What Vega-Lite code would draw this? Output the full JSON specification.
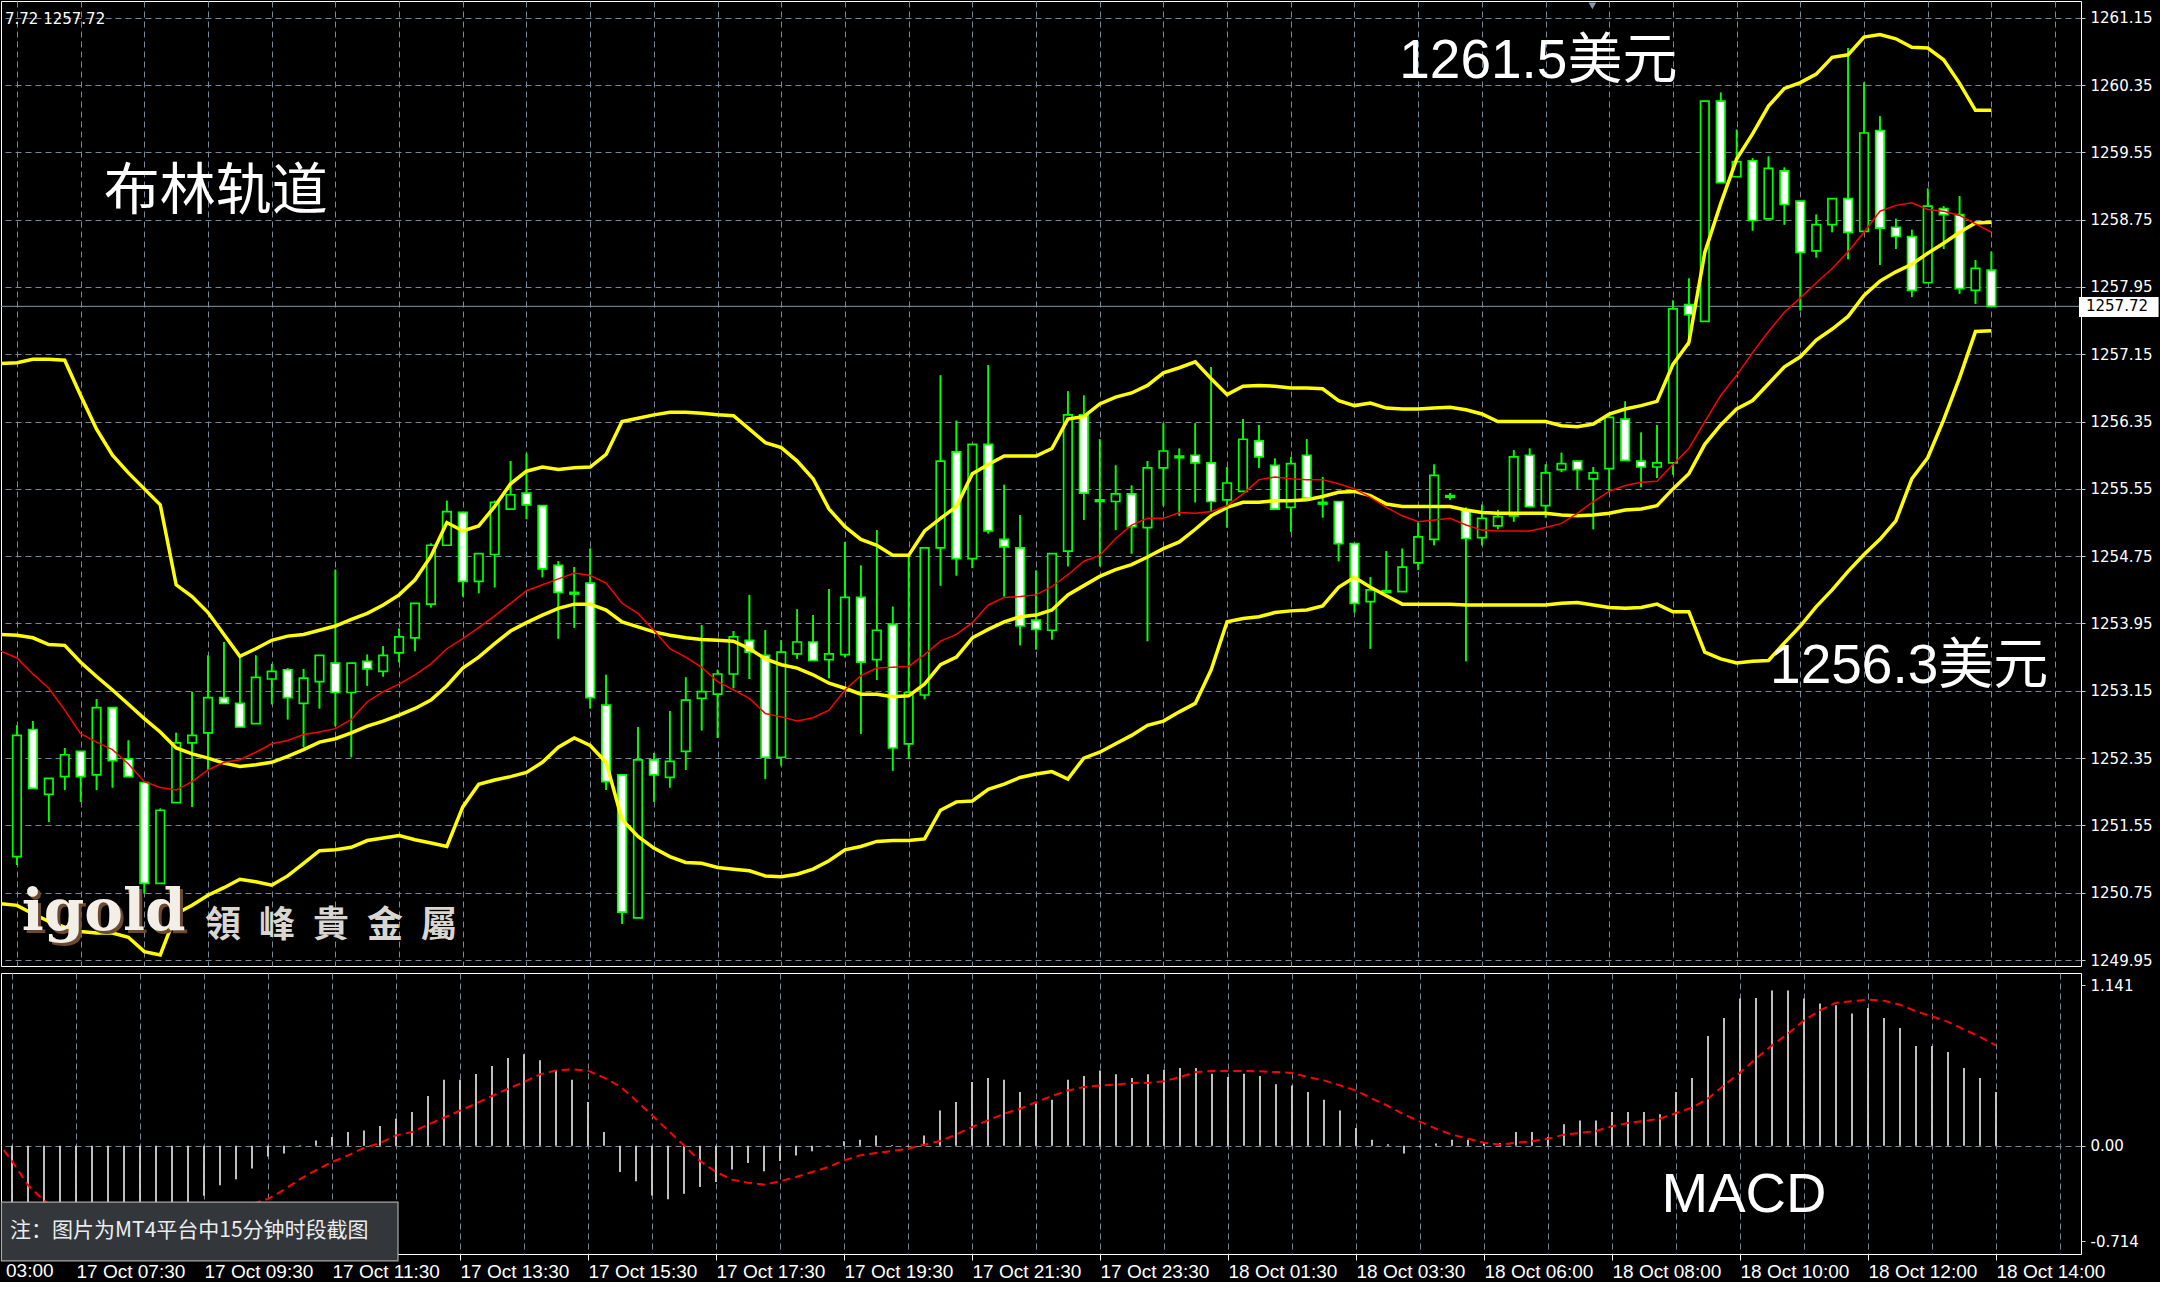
{
"$schema": "https://vega.github.io/schema/vega-lite/v6.json",
"background": "#000000",
"padding": 0,
"spacing": 3,
"config": {"view": {"stroke": "#ffffff", "strokeWidth": 1}},
"datasets": {
"bars": [
{"i":-1,"up":1257.04,"mid":1253.82,"lo":1250.62,"ma":1253.62,"sig":0.04},
{"i":0,"o":1251.18,"h":1252.74,"l":1251.08,"c":1252.62,"up":1257.05,"mid":1253.81,"lo":1250.60,"ma":1253.54,"macd":-0.62,"sig":-0.10},
{"i":1,"o":1252.69,"h":1252.79,"l":1251.99,"c":1251.99,"up":1257.09,"mid":1253.78,"lo":1250.50,"ma":1253.35,"macd":-0.68,"sig":-0.26},
{"i":2,"o":1251.92,"h":1252.11,"l":1251.59,"c":1252.11,"up":1257.09,"mid":1253.70,"lo":1250.41,"ma":1253.18,"macd":-0.71,"sig":-0.36},
{"i":3,"o":1252.13,"h":1252.47,"l":1251.97,"c":1252.39,"up":1257.08,"mid":1253.69,"lo":1250.34,"ma":1252.92,"macd":-0.70,"sig":-0.43},
{"i":4,"o":1252.43,"h":1252.43,"l":1251.83,"c":1252.13,"up":1256.66,"mid":1253.49,"lo":1250.29,"ma":1252.64,"macd":-0.66,"sig":-0.49},
{"i":5,"o":1252.15,"h":1253.05,"l":1251.97,"c":1252.95,"up":1256.26,"mid":1253.32,"lo":1250.27,"ma":1252.54,"macd":-0.63,"sig":-0.53},
{"i":6,"o":1252.95,"h":1252.95,"l":1252.00,"c":1252.32,"up":1255.95,"mid":1253.16,"lo":1250.27,"ma":1252.45,"macd":-0.60,"sig":-0.56},
{"i":7,"o":1252.34,"h":1252.56,"l":1252.13,"c":1252.13,"up":1255.74,"mid":1252.99,"lo":1250.22,"ma":1252.28,"macd":-0.57,"sig":-0.58},
{"i":8,"o":1252.06,"h":1252.06,"l":1250.74,"c":1250.86,"up":1255.55,"mid":1252.82,"lo":1250.05,"ma":1252.07,"macd":-0.55,"sig":-0.585},
{"i":9,"o":1250.86,"h":1251.75,"l":1250.86,"c":1251.73,"up":1255.36,"mid":1252.66,"lo":1250.01,"ma":1252.00,"macd":-0.52,"sig":-0.58},
{"i":10,"o":1251.82,"h":1252.65,"l":1251.82,"c":1252.53,"up":1254.41,"mid":1252.47,"lo":1250.50,"ma":1251.97,"macd":-0.47,"sig":-0.56},
{"i":11,"o":1252.53,"h":1253.14,"l":1251.77,"c":1252.62,"up":1254.27,"mid":1252.40,"lo":1250.60,"ma":1252.07,"macd":-0.42,"sig":-0.53},
{"i":12,"o":1252.65,"h":1253.57,"l":1252.21,"c":1253.07,"up":1254.08,"mid":1252.35,"lo":1250.72,"ma":1252.21,"macd":-0.33,"sig":-0.50},
{"i":13,"o":1253.07,"h":1253.73,"l":1253.00,"c":1253.00,"up":1253.82,"mid":1252.29,"lo":1250.81,"ma":1252.30,"macd":-0.26,"sig":-0.46},
{"i":14,"o":1253.00,"h":1253.54,"l":1252.72,"c":1252.72,"up":1253.56,"mid":1252.25,"lo":1250.91,"ma":1252.33,"macd":-0.22,"sig":-0.42},
{"i":15,"o":1252.76,"h":1253.57,"l":1252.76,"c":1253.31,"up":1253.65,"mid":1252.27,"lo":1250.88,"ma":1252.42,"macd":-0.15,"sig":-0.385},
{"i":16,"o":1253.29,"h":1253.47,"l":1252.99,"c":1253.38,"up":1253.75,"mid":1252.30,"lo":1250.84,"ma":1252.52,"macd":-0.07,"sig":-0.35},
{"i":17,"o":1253.40,"h":1253.42,"l":1252.81,"c":1253.07,"up":1253.80,"mid":1252.37,"lo":1250.95,"ma":1252.56,"macd":-0.05,"sig":-0.29},
{"i":18,"o":1253.00,"h":1253.41,"l":1252.48,"c":1253.30,"up":1253.82,"mid":1252.45,"lo":1251.10,"ma":1252.63,"macd":0.004,"sig":-0.22},
{"i":19,"o":1253.26,"h":1253.57,"l":1252.94,"c":1253.57,"up":1253.87,"mid":1252.54,"lo":1251.25,"ma":1252.66,"macd":0.036,"sig":-0.16},
{"i":20,"o":1253.48,"h":1254.59,"l":1252.73,"c":1253.13,"up":1253.92,"mid":1252.58,"lo":1251.26,"ma":1252.70,"macd":0.058,"sig":-0.107},
{"i":21,"o":1253.13,"h":1253.48,"l":1252.36,"c":1253.48,"up":1254.00,"mid":1252.65,"lo":1251.29,"ma":1252.81,"macd":0.091,"sig":-0.063},
{"i":22,"o":1253.50,"h":1253.58,"l":1253.21,"c":1253.41,"up":1254.07,"mid":1252.73,"lo":1251.37,"ma":1253.02,"macd":0.102,"sig":-0.014},
{"i":23,"o":1253.38,"h":1253.68,"l":1253.32,"c":1253.57,"up":1254.17,"mid":1252.79,"lo":1251.40,"ma":1253.14,"macd":0.131,"sig":0.019},
{"i":24,"o":1253.60,"h":1253.89,"l":1253.49,"c":1253.79,"up":1254.29,"mid":1252.86,"lo":1251.43,"ma":1253.23,"macd":0.179,"sig":0.069},
{"i":25,"o":1253.78,"h":1254.19,"l":1253.62,"c":1254.19,"up":1254.47,"mid":1252.94,"lo":1251.38,"ma":1253.34,"macd":0.223,"sig":0.091},
{"i":26,"o":1254.18,"h":1254.90,"l":1254.14,"c":1254.88,"up":1254.75,"mid":1253.04,"lo":1251.34,"ma":1253.47,"macd":0.329,"sig":0.140},
{"i":27,"o":1254.88,"h":1255.41,"l":1254.88,"c":1255.28,"up":1255.15,"mid":1253.21,"lo":1251.30,"ma":1253.65,"macd":0.437,"sig":0.186},
{"i":28,"o":1255.27,"h":1255.27,"l":1254.27,"c":1254.45,"up":1255.05,"mid":1253.42,"lo":1251.77,"ma":1253.77,"macd":0.437,"sig":0.232},
{"i":29,"o":1254.45,"h":1254.78,"l":1254.31,"c":1254.78,"up":1255.11,"mid":1253.55,"lo":1252.04,"ma":1253.90,"macd":0.474,"sig":0.279},
{"i":30,"o":1254.77,"h":1255.41,"l":1254.38,"c":1255.39,"up":1255.34,"mid":1253.71,"lo":1252.09,"ma":1254.04,"macd":0.527,"sig":0.329},
{"i":31,"o":1255.31,"h":1255.88,"l":1255.31,"c":1255.48,"up":1255.61,"mid":1253.86,"lo":1252.13,"ma":1254.19,"macd":0.580,"sig":0.377},
{"i":32,"o":1255.50,"h":1255.97,"l":1255.19,"c":1255.36,"up":1255.76,"mid":1253.96,"lo":1252.18,"ma":1254.34,"macd":0.604,"sig":0.421},
{"i":33,"o":1255.35,"h":1255.35,"l":1254.50,"c":1254.60,"up":1255.81,"mid":1254.05,"lo":1252.30,"ma":1254.41,"macd":0.565,"sig":0.472},
{"i":34,"o":1254.64,"h":1254.69,"l":1253.77,"c":1254.32,"up":1255.78,"mid":1254.13,"lo":1252.48,"ma":1254.48,"macd":0.498,"sig":0.498},
{"i":35,"o":1254.30,"h":1254.62,"l":1253.90,"c":1254.32,"up":1255.80,"mid":1254.18,"lo":1252.59,"ma":1254.55,"macd":0.437,"sig":0.505},
{"i":36,"o":1254.43,"h":1254.84,"l":1252.94,"c":1253.07,"up":1255.81,"mid":1254.18,"lo":1252.50,"ma":1254.52,"macd":0.289,"sig":0.496},
{"i":37,"o":1252.98,"h":1253.34,"l":1251.97,"c":1252.07,"up":1255.96,"mid":1254.11,"lo":1252.30,"ma":1254.43,"macd":0.091,"sig":0.450},
{"i":38,"o":1252.15,"h":1252.15,"l":1250.38,"c":1250.52,"up":1256.35,"mid":1253.97,"lo":1251.62,"ma":1254.19,"macd":-0.173,"sig":0.393},
{"i":39,"o":1250.45,"h":1252.72,"l":1250.45,"c":1252.33,"up":1256.39,"mid":1253.91,"lo":1251.42,"ma":1254.07,"macd":-0.234,"sig":0.300},
{"i":40,"o":1252.33,"h":1252.41,"l":1251.83,"c":1252.15,"up":1256.43,"mid":1253.85,"lo":1251.28,"ma":1253.87,"macd":-0.327,"sig":0.201},
{"i":41,"o":1252.12,"h":1252.91,"l":1252.00,"c":1252.31,"up":1256.46,"mid":1253.81,"lo":1251.18,"ma":1253.65,"macd":-0.353,"sig":0.102},
{"i":42,"o":1252.43,"h":1253.31,"l":1252.21,"c":1253.04,"up":1256.46,"mid":1253.78,"lo":1251.11,"ma":1253.55,"macd":-0.316,"sig":0.003},
{"i":43,"o":1253.06,"h":1253.93,"l":1252.68,"c":1253.14,"up":1256.45,"mid":1253.76,"lo":1251.10,"ma":1253.43,"macd":-0.272,"sig":-0.10},
{"i":44,"o":1253.11,"h":1253.40,"l":1252.59,"c":1253.35,"up":1256.43,"mid":1253.75,"lo":1251.05,"ma":1253.26,"macd":-0.239,"sig":-0.173},
{"i":45,"o":1253.35,"h":1253.86,"l":1253.18,"c":1253.79,"up":1256.42,"mid":1253.74,"lo":1251.03,"ma":1253.16,"macd":-0.157,"sig":-0.223},
{"i":46,"o":1253.75,"h":1254.29,"l":1253.29,"c":1253.61,"up":1256.26,"mid":1253.65,"lo":1251.01,"ma":1253.06,"macd":-0.113,"sig":-0.243},
{"i":47,"o":1253.57,"h":1253.87,"l":1252.10,"c":1252.36,"up":1256.10,"mid":1253.53,"lo":1250.95,"ma":1252.88,"macd":-0.168,"sig":-0.256},
{"i":48,"o":1252.36,"h":1253.75,"l":1252.26,"c":1253.61,"up":1256.04,"mid":1253.46,"lo":1250.94,"ma":1252.84,"macd":-0.10,"sig":-0.234},
{"i":49,"o":1253.59,"h":1254.12,"l":1253.53,"c":1253.73,"up":1255.88,"mid":1253.42,"lo":1250.97,"ma":1252.79,"macd":-0.063,"sig":-0.206},
{"i":50,"o":1253.73,"h":1254.05,"l":1253.51,"c":1253.51,"up":1255.67,"mid":1253.34,"lo":1251.03,"ma":1252.83,"macd":-0.036,"sig":-0.173},
{"i":51,"o":1253.52,"h":1254.36,"l":1253.30,"c":1253.59,"up":1255.31,"mid":1253.24,"lo":1251.13,"ma":1252.92,"macd":0.003,"sig":-0.140},
{"i":52,"o":1253.58,"h":1254.92,"l":1253.55,"c":1254.26,"up":1255.10,"mid":1253.18,"lo":1251.26,"ma":1253.16,"macd":0.030,"sig":-0.096},
{"i":53,"o":1254.26,"h":1254.64,"l":1252.64,"c":1253.49,"up":1254.95,"mid":1253.11,"lo":1251.30,"ma":1253.33,"macd":0.041,"sig":-0.063},
{"i":54,"o":1253.52,"h":1255.06,"l":1253.28,"c":1253.87,"up":1254.88,"mid":1253.11,"lo":1251.36,"ma":1253.42,"macd":0.069,"sig":-0.047},
{"i":55,"o":1253.94,"h":1254.15,"l":1252.20,"c":1252.47,"up":1254.76,"mid":1253.08,"lo":1251.37,"ma":1253.43,"macd":0.005,"sig":-0.034},
{"i":56,"o":1252.52,"h":1254.74,"l":1252.34,"c":1253.13,"up":1254.76,"mid":1253.09,"lo":1251.37,"ma":1253.44,"macd":-0.004,"sig":-0.019},
{"i":57,"o":1253.10,"h":1254.85,"l":1253.05,"c":1254.85,"up":1255.05,"mid":1253.23,"lo":1251.39,"ma":1253.58,"macd":0.069,"sig":0.008},
{"i":58,"o":1254.85,"h":1256.90,"l":1254.40,"c":1255.88,"up":1255.20,"mid":1253.46,"lo":1251.73,"ma":1253.74,"macd":0.234,"sig":0.032},
{"i":59,"o":1255.99,"h":1256.36,"l":1254.52,"c":1254.72,"up":1255.34,"mid":1253.55,"lo":1251.83,"ma":1253.82,"macd":0.289,"sig":0.074},
{"i":60,"o":1254.72,"h":1256.08,"l":1254.61,"c":1256.08,"up":1255.73,"mid":1253.78,"lo":1251.84,"ma":1253.96,"macd":0.421,"sig":0.124},
{"i":61,"o":1256.08,"h":1257.02,"l":1255.02,"c":1255.05,"up":1255.84,"mid":1253.88,"lo":1251.98,"ma":1254.17,"macd":0.448,"sig":0.168},
{"i":62,"o":1254.95,"h":1255.60,"l":1254.27,"c":1254.86,"up":1255.94,"mid":1253.97,"lo":1252.04,"ma":1254.26,"macd":0.437,"sig":0.212},
{"i":63,"o":1254.85,"h":1255.24,"l":1253.69,"c":1253.92,"up":1255.94,"mid":1254.03,"lo":1252.12,"ma":1254.27,"macd":0.355,"sig":0.245},
{"i":64,"o":1253.99,"h":1254.58,"l":1253.64,"c":1253.88,"up":1255.94,"mid":1254.05,"lo":1252.16,"ma":1254.29,"macd":0.279,"sig":0.289},
{"i":65,"o":1253.87,"h":1254.78,"l":1253.76,"c":1254.78,"up":1256.03,"mid":1254.11,"lo":1252.19,"ma":1254.39,"macd":0.305,"sig":0.329},
{"i":66,"o":1254.81,"h":1256.71,"l":1254.63,"c":1256.43,"up":1256.38,"mid":1254.29,"lo":1252.10,"ma":1254.53,"macd":0.437,"sig":0.366},
{"i":67,"o":1256.43,"h":1256.66,"l":1255.18,"c":1255.50,"up":1256.41,"mid":1254.40,"lo":1252.35,"ma":1254.69,"macd":0.461,"sig":0.388},
{"i":68,"o":1255.40,"h":1256.14,"l":1254.63,"c":1255.42,"up":1256.56,"mid":1254.51,"lo":1252.42,"ma":1254.76,"macd":0.498,"sig":0.399},
{"i":69,"o":1255.40,"h":1255.83,"l":1255.06,"c":1255.49,"up":1256.64,"mid":1254.59,"lo":1252.52,"ma":1254.96,"macd":0.472,"sig":0.404},
{"i":70,"o":1255.49,"h":1255.59,"l":1254.78,"c":1255.10,"up":1256.69,"mid":1254.65,"lo":1252.62,"ma":1255.12,"macd":0.448,"sig":0.415},
{"i":71,"o":1255.09,"h":1255.88,"l":1253.74,"c":1255.80,"up":1256.78,"mid":1254.74,"lo":1252.74,"ma":1255.20,"macd":0.472,"sig":0.415},
{"i":72,"o":1255.80,"h":1256.33,"l":1255.35,"c":1256.00,"up":1256.93,"mid":1254.84,"lo":1252.79,"ma":1255.20,"macd":0.503,"sig":0.426},
{"i":73,"o":1255.92,"h":1256.03,"l":1255.23,"c":1255.94,"up":1256.99,"mid":1254.92,"lo":1252.90,"ma":1255.27,"macd":0.514,"sig":0.454},
{"i":74,"o":1255.95,"h":1256.33,"l":1255.39,"c":1255.86,"up":1257.06,"mid":1255.07,"lo":1253.00,"ma":1255.26,"macd":0.514,"sig":0.487},
{"i":75,"o":1255.86,"h":1257.00,"l":1255.29,"c":1255.40,"up":1256.86,"mid":1255.23,"lo":1253.40,"ma":1255.28,"macd":0.476,"sig":0.494},
{"i":76,"o":1255.42,"h":1255.81,"l":1255.09,"c":1255.62,"up":1256.67,"mid":1255.33,"lo":1253.97,"ma":1255.35,"macd":0.454,"sig":0.494},
{"i":77,"o":1255.52,"h":1256.38,"l":1255.52,"c":1256.14,"up":1256.77,"mid":1255.39,"lo":1254.01,"ma":1255.49,"macd":0.476,"sig":0.494},
{"i":78,"o":1256.12,"h":1256.31,"l":1255.80,"c":1255.93,"up":1256.78,"mid":1255.39,"lo":1254.03,"ma":1255.66,"macd":0.461,"sig":0.492},
{"i":79,"o":1255.83,"h":1255.91,"l":1255.31,"c":1255.31,"up":1256.77,"mid":1255.41,"lo":1254.08,"ma":1255.69,"macd":0.406,"sig":0.487},
{"i":80,"o":1255.33,"h":1255.93,"l":1255.04,"c":1255.85,"up":1256.75,"mid":1255.41,"lo":1254.10,"ma":1255.67,"macd":0.399,"sig":0.481},
{"i":81,"o":1255.95,"h":1256.14,"l":1255.44,"c":1255.44,"up":1256.75,"mid":1255.42,"lo":1254.11,"ma":1255.66,"macd":0.355,"sig":0.454},
{"i":82,"o":1255.37,"h":1255.69,"l":1255.21,"c":1255.39,"up":1256.74,"mid":1255.46,"lo":1254.16,"ma":1255.66,"macd":0.305,"sig":0.432},
{"i":83,"o":1255.40,"h":1255.40,"l":1254.69,"c":1254.90,"up":1256.60,"mid":1255.51,"lo":1254.38,"ma":1255.61,"macd":0.234,"sig":0.399},
{"i":84,"o":1254.90,"h":1254.90,"l":1254.08,"c":1254.19,"up":1256.54,"mid":1255.52,"lo":1254.50,"ma":1255.55,"macd":0.118,"sig":0.366},
{"i":85,"o":1254.21,"h":1254.50,"l":1253.65,"c":1254.35,"up":1256.57,"mid":1255.47,"lo":1254.38,"ma":1255.45,"macd":0.041,"sig":0.312},
{"i":86,"o":1254.32,"h":1254.81,"l":1254.32,"c":1254.34,"up":1256.51,"mid":1255.37,"lo":1254.28,"ma":1255.33,"macd":0.010,"sig":0.263},
{"i":87,"o":1254.33,"h":1254.84,"l":1254.33,"c":1254.62,"up":1256.50,"mid":1255.34,"lo":1254.18,"ma":1255.23,"macd":-0.050,"sig":0.207},
{"i":88,"o":1254.67,"h":1255.15,"l":1254.59,"c":1254.98,"up":1256.50,"mid":1255.34,"lo":1254.18,"ma":1255.16,"macd":-0.010,"sig":0.160},
{"i":89,"o":1254.95,"h":1255.84,"l":1254.88,"c":1255.71,"up":1256.51,"mid":1255.34,"lo":1254.18,"ma":1255.18,"macd":0.016,"sig":0.113},
{"i":90,"o":1255.45,"h":1255.50,"l":1255.42,"c":1255.47,"up":1256.52,"mid":1255.34,"lo":1254.18,"ma":1255.20,"macd":0.041,"sig":0.074},
{"i":91,"o":1255.30,"h":1255.33,"l":1253.50,"c":1254.96,"up":1256.49,"mid":1255.30,"lo":1254.17,"ma":1255.12,"macd":0.041,"sig":0.047},
{"i":92,"o":1254.97,"h":1255.36,"l":1254.88,"c":1255.20,"up":1256.44,"mid":1255.27,"lo":1254.17,"ma":1255.06,"macd":0.018,"sig":0.021},
{"i":93,"o":1255.11,"h":1255.30,"l":1255.07,"c":1255.22,"up":1256.35,"mid":1255.26,"lo":1254.17,"ma":1255.05,"macd":0.018,"sig":0.008},
{"i":94,"o":1255.23,"h":1256.01,"l":1255.16,"c":1255.93,"up":1256.35,"mid":1255.26,"lo":1254.17,"ma":1255.05,"macd":0.091,"sig":0.021},
{"i":95,"o":1255.95,"h":1256.03,"l":1255.34,"c":1255.34,"up":1256.35,"mid":1255.26,"lo":1254.17,"ma":1255.05,"macd":0.091,"sig":0.030},
{"i":96,"o":1255.35,"h":1255.84,"l":1255.21,"c":1255.74,"up":1256.35,"mid":1255.26,"lo":1254.17,"ma":1255.09,"macd":0.058,"sig":0.047},
{"i":97,"o":1255.78,"h":1255.98,"l":1255.75,"c":1255.85,"up":1256.30,"mid":1255.24,"lo":1254.19,"ma":1255.14,"macd":0.142,"sig":0.074},
{"i":98,"o":1255.88,"h":1255.88,"l":1255.55,"c":1255.78,"up":1256.29,"mid":1255.23,"lo":1254.20,"ma":1255.26,"macd":0.168,"sig":0.085},
{"i":99,"o":1255.67,"h":1255.81,"l":1255.07,"c":1255.74,"up":1256.32,"mid":1255.24,"lo":1254.17,"ma":1255.40,"macd":0.168,"sig":0.098},
{"i":100,"o":1255.79,"h":1256.42,"l":1255.52,"c":1256.40,"up":1256.44,"mid":1255.26,"lo":1254.14,"ma":1255.52,"macd":0.223,"sig":0.129},
{"i":101,"o":1256.38,"h":1256.59,"l":1255.89,"c":1255.89,"up":1256.50,"mid":1255.30,"lo":1254.13,"ma":1255.59,"macd":0.223,"sig":0.151},
{"i":102,"o":1255.88,"h":1256.22,"l":1255.57,"c":1255.81,"up":1256.54,"mid":1255.31,"lo":1254.14,"ma":1255.63,"macd":0.223,"sig":0.164},
{"i":103,"o":1255.81,"h":1256.31,"l":1255.68,"c":1255.86,"up":1256.59,"mid":1255.35,"lo":1254.18,"ma":1255.64,"macd":0.208,"sig":0.179},
{"i":104,"o":1255.86,"h":1257.79,"l":1255.72,"c":1257.69,"up":1257.03,"mid":1255.55,"lo":1254.09,"ma":1255.84,"macd":0.355,"sig":0.217},
{"i":105,"o":1257.74,"h":1258.05,"l":1257.25,"c":1257.62,"up":1257.29,"mid":1255.73,"lo":1254.09,"ma":1256.03,"macd":0.448,"sig":0.252},
{"i":106,"o":1257.54,"h":1260.16,"l":1257.54,"c":1260.16,"up":1258.36,"mid":1256.08,"lo":1253.61,"ma":1256.35,"macd":0.725,"sig":0.312},
{"i":107,"o":1260.16,"h":1260.26,"l":1259.19,"c":1259.19,"up":1258.94,"mid":1256.31,"lo":1253.53,"ma":1256.66,"macd":0.844,"sig":0.399},
{"i":108,"o":1259.26,"h":1259.82,"l":1259.26,"c":1259.44,"up":1259.47,"mid":1256.50,"lo":1253.48,"ma":1256.90,"macd":0.972,"sig":0.483},
{"i":109,"o":1259.45,"h":1259.48,"l":1258.62,"c":1258.74,"up":1259.77,"mid":1256.60,"lo":1253.50,"ma":1257.17,"macd":0.976,"sig":0.576},
{"i":110,"o":1258.76,"h":1259.50,"l":1258.76,"c":1259.36,"up":1260.10,"mid":1256.80,"lo":1253.51,"ma":1257.42,"macd":1.026,"sig":0.663},
{"i":111,"o":1259.33,"h":1259.37,"l":1258.69,"c":1258.93,"up":1260.31,"mid":1257.00,"lo":1253.72,"ma":1257.65,"macd":1.026,"sig":0.741},
{"i":112,"o":1258.97,"h":1258.97,"l":1257.67,"c":1258.36,"up":1260.38,"mid":1257.12,"lo":1253.92,"ma":1257.82,"macd":0.972,"sig":0.828},
{"i":113,"o":1258.38,"h":1258.81,"l":1258.30,"c":1258.69,"up":1260.48,"mid":1257.32,"lo":1254.15,"ma":1258.00,"macd":0.939,"sig":0.894},
{"i":114,"o":1258.69,"h":1259.00,"l":1258.60,"c":1259.00,"up":1260.68,"mid":1257.45,"lo":1254.35,"ma":1258.17,"macd":0.928,"sig":0.945},
{"i":115,"o":1259.00,"h":1260.79,"l":1258.28,"c":1258.60,"up":1260.71,"mid":1257.60,"lo":1254.57,"ma":1258.37,"macd":0.873,"sig":0.954},
{"i":116,"o":1258.61,"h":1260.38,"l":1258.61,"c":1259.78,"up":1260.92,"mid":1257.85,"lo":1254.77,"ma":1258.60,"macd":0.910,"sig":0.965},
{"i":117,"o":1259.81,"h":1259.98,"l":1258.21,"c":1258.65,"up":1260.95,"mid":1258.02,"lo":1254.95,"ma":1258.85,"macd":0.844,"sig":0.958},
{"i":118,"o":1258.66,"h":1258.76,"l":1258.40,"c":1258.55,"up":1260.90,"mid":1258.13,"lo":1255.17,"ma":1258.92,"macd":0.778,"sig":0.932},
{"i":119,"o":1258.55,"h":1258.63,"l":1257.83,"c":1257.91,"up":1260.80,"mid":1258.22,"lo":1255.67,"ma":1258.95,"macd":0.659,"sig":0.888},
{"i":120,"o":1258.00,"h":1259.12,"l":1258.00,"c":1258.91,"up":1260.79,"mid":1258.35,"lo":1255.92,"ma":1258.87,"macd":0.659,"sig":0.855},
{"i":121,"o":1258.88,"h":1258.91,"l":1258.40,"c":1258.81,"up":1260.65,"mid":1258.47,"lo":1256.37,"ma":1258.85,"macd":0.620,"sig":0.818},
{"i":122,"o":1258.81,"h":1259.03,"l":1257.87,"c":1257.93,"up":1260.37,"mid":1258.60,"lo":1256.87,"ma":1258.80,"macd":0.514,"sig":0.769},
{"i":123,"o":1257.91,"h":1258.27,"l":1257.75,"c":1258.17,"up":1260.05,"mid":1258.71,"lo":1257.42,"ma":1258.70,"macd":0.448,"sig":0.719},
{"i":124,"o":1258.15,"h":1258.37,"l":1257.71,"c":1257.72,"up":1260.05,"mid":1258.72,"lo":1257.43,"ma":1258.60,"macd":0.355,"sig":0.663}
],
"cur": [{"price": 1257.72}]
},
"vconcat": [
{
"width": 2080,
"height": 965,
"data": {"name": "bars"},
"layer": [
{
"transform": [{"filter": "isValid(datum.o)"}],
"mark": {"type": "rule", "color": "#00ff00", "strokeWidth": 1.6},
"encoding": {
"x": {"field": "i", "type": "quantitative", "scale": {"domain": [-0.6875, 129.3125], "nice": false, "zero": false},
"axis": {"values": [0,4,8,12,16,20,24,28,32,36,40,44,48,52,56,60,64,68,72,76,80,84,88,92,96,100,104,108,112,116,120,124,128], "labels": false, "ticks": false, "domain": false, "title": null, "grid": true, "gridColor": "#778899", "gridDash": [6, 4], "gridWidth": 1}},
"y": {"field": "l", "type": "quantitative", "scale": {"domain": [1249.879, 1261.349], "nice": false, "zero": false},
"axis": {"orient": "right", "values": [1249.95,1250.75,1251.55,1252.35,1253.15,1253.95,1254.75,1255.55,1256.35,1257.15,1257.95,1258.75,1259.55,1260.35,1261.15], "format": ".2f", "title": null, "grid": true, "gridColor": "#778899", "gridDash": [6, 4], "gridWidth": 1, "domain": false, "tickSize": 4, "tickColor": "#cccccc", "labelColor": "#ffffff", "labelFont": "DejaVu Sans", "labelFontSize": 15, "labelPadding": 5, "labelOverlap": false, "labelFlush": false}},
"y2": {"field": "h"}
}
},
{
"data": {"name": "cur"},
"mark": {"type": "rule", "color": "#8797a8", "strokeWidth": 1},
"encoding": {
"y": {"field": "price", "type": "quantitative"}
}
},
{
"transform": [{"filter": "isValid(datum.o)"}],
"mark": {"type": "rule", "color": "#00ff00", "strokeWidth": 1.6},
"encoding": {
"x": {"field": "i", "type": "quantitative"},
"y": {"field": "l", "type": "quantitative"},
"y2": {"field": "h"}
}
},
{
"transform": [{"filter": "isValid(datum.o)"}],
"mark": {"type": "bar", "size": 8.5, "stroke": "#00ff00", "strokeWidth": 1.7},
"encoding": {
"x": {"field": "i", "type": "quantitative"},
"y": {"field": "o", "type": "quantitative"},
"y2": {"field": "c"},
"fill": {"condition": {"test": "datum.c < datum.o", "value": "#ffffff"}, "value": "#000000"}
}
},
{
"mark": {"type": "line", "color": "#ffff00", "strokeWidth": 3.5, "clip": true},
"encoding": {"x": {"field": "i", "type": "quantitative"}, "y": {"field": "up", "type": "quantitative"}}
},
{
"mark": {"type": "line", "color": "#ffff00", "strokeWidth": 3.5, "clip": true},
"encoding": {"x": {"field": "i", "type": "quantitative"}, "y": {"field": "lo", "type": "quantitative"}}
},
{
"mark": {"type": "line", "color": "#ffff00", "strokeWidth": 3.5, "clip": true},
"encoding": {"x": {"field": "i", "type": "quantitative"}, "y": {"field": "mid", "type": "quantitative"}}
},
{
"mark": {"type": "line", "color": "#ff0000", "strokeWidth": 1.5, "clip": true},
"encoding": {"x": {"field": "i", "type": "quantitative"}, "y": {"field": "ma", "type": "quantitative"}}
},
{
"data": {"values": [{}]},
"mark": {"type": "text", "text": "布林轨道", "font": "Noto Sans CJK SC", "fontSize": 56, "color": "#ffffff", "align": "left", "baseline": "middle"},
"encoding": {"x": {"datum": 5.45}, "y": {"datum": 1259.08}}
},
{
"data": {"values": [{}]},
"mark": {"type": "text", "text": "1261.5美元", "font": "Liberation Sans, Noto Sans CJK SC", "fontSize": 55, "color": "#ffffff", "align": "left", "baseline": "middle"},
"encoding": {"x": {"datum": 86.81}, "y": {"datum": 1260.63}}
},
{
"data": {"values": [{}]},
"mark": {"type": "text", "text": "1256.3美元", "font": "Liberation Sans, Noto Sans CJK SC", "fontSize": 55, "color": "#ffffff", "align": "left", "baseline": "middle"},
"encoding": {"x": {"datum": 110.1}, "y": {"datum": 1253.45}}
},
{
"data": {"values": [{}]},
"mark": {"type": "text", "text": "7.72 1257.72", "font": "DejaVu Sans", "fontSize": 15, "color": "#ffffff", "align": "left", "baseline": "middle"},
"encoding": {"x": {"datum": -0.75}, "y": {"datum": 1261.13}}
},
{
"data": {"values": [{}]},
"mark": {"type": "text", "text": "igold", "font": "DejaVu Serif", "fontWeight": "bold", "fontSize": 58, "color": "#6b4a32", "align": "left", "baseline": "alphabetic", "dx": 3, "dy": 3},
"encoding": {"x": {"datum": 0.3}, "y": {"datum": 1250.306}}
},
{
"data": {"values": [{}]},
"mark": {"type": "text", "text": "igold", "font": "DejaVu Serif", "fontWeight": "bold", "fontSize": 58, "color": "#f4efe6", "align": "left", "baseline": "alphabetic"},
"encoding": {"x": {"datum": 0.3}, "y": {"datum": 1250.306}}
},
{
"data": {"values": [{}]},
"mark": {"type": "text", "text": "領\u2002峰\u2002貴\u2002金\u2002屬", "font": "Noto Sans CJK TC", "fontSize": 36, "fontWeight": "bold", "color": "#d9d6d0", "align": "left", "baseline": "middle"},
"encoding": {"x": {"datum": 11.8125}, "y": {"datum": 1250.353}}
},
{
"data": {"values": [{}]},
"mark": {"type": "point", "shape": "triangle-down", "filled": true, "color": "#8797a8", "size": 60, "opacity": 1},
"encoding": {"x": {"datum": 98.94}, "y": {"datum": 1261.29}}
},
{
"data": {"name": "cur"},
"mark": {"type": "rect", "fill": "#ffffff", "clip": false},
"encoding": {
"x": {"datum": 129.5}, "x2": {"datum": 134.5},
"y": {"datum": 1257.83}, "y2": {"datum": 1257.593}
}
},
{
"data": {"name": "cur"},
"mark": {"type": "text", "font": "DejaVu Sans", "fontSize": 15, "color": "#000000", "align": "left", "baseline": "middle"},
"encoding": {
"x": {"datum": 129.94},
"y": {"field": "price", "type": "quantitative"},
"text": {"field": "price", "type": "quantitative", "format": ".2f"}
}
}
]
},
{
"width": 2080,
"height": 281,
"data": {"name": "bars"},
"layer": [
{
"transform": [{"filter": "isValid(datum.macd)"}],
"mark": {"type": "rule", "color": "#d4d4d4", "strokeWidth": 1.8},
"encoding": {
"x": {"field": "i", "type": "quantitative", "scale": {"domain": [-0.6875, 129.3125], "nice": false, "zero": false},
"axis": {"values": [0,4,8,12,16,20,24,28,32,36,40,44,48,52,56,60,64,68,72,76,80,84,88,92,96,100,104,108,112,116,120,124,128], "title": null, "domain": false, "grid": true, "gridColor": "#778899", "gridDash": [6, 4], "gridWidth": 1, "ticks": true, "tickSize": 6, "tickColor": "#ffffff", "tickOpacity": {"condition": {"test": "datum.value % 8 == 4", "value": 1}, "value": 0},
"labelExpr": "datum.value % 8 == 4 ? ['17 Oct 07:30','17 Oct 09:30','17 Oct 11:30','17 Oct 13:30','17 Oct 15:30','17 Oct 17:30','17 Oct 19:30','17 Oct 21:30','17 Oct 23:30','18 Oct 01:30','18 Oct 03:30','18 Oct 06:00','18 Oct 08:00','18 Oct 10:00','18 Oct 12:00','18 Oct 14:00'][(datum.value - 4) / 8] : ''",
"labelAlign": "left", "labelBaseline": "top", "labelPadding": 2, "labelColor": "#ffffff", "labelFont": "Liberation Sans Narrow, Liberation Sans", "labelFontSize": 19, "labelOverlap": false, "labelFlush": false, "labelBound": false}},
"y": {"field": "macd", "type": "quantitative", "scale": {"domain": [-0.714, 1.141], "nice": false, "zero": false},
"axis": {"orient": "right", "values": [1.06, 0, -0.63], "title": null, "domain": false, "grid": true, "gridColor": "#778899", "gridDash": [6, 4], "gridOpacity": {"condition": {"test": "datum.value == 0", "value": 1}, "value": 0}, "tickSize": 4, "tickColor": "#cccccc",
"labelExpr": "datum.value > 1 ? '1.141' : (datum.value < -0.5 ? '-0.714' : '0.00')", "labelColor": "#ffffff", "labelFont": "DejaVu Sans", "labelFontSize": 15, "labelPadding": 5, "labelFlush": false, "labelOverlap": false}},
"y2": {"datum": 0}
}
},
{
"mark": {"type": "line", "color": "#ff0000", "strokeWidth": 2, "strokeDash": [8, 5], "clip": true},
"encoding": {"x": {"field": "i", "type": "quantitative"}, "y": {"field": "sig", "type": "quantitative"}}
},
{
"data": {"values": [{}]},
"mark": {"type": "rect", "fill": "#33373c", "stroke": "#a8a8a8", "strokeWidth": 1.2, "clip": false},
"encoding": {
"x": {"datum": -0.66}, "x2": {"datum": 24.125},
"y": {"datum": -0.3717}, "y2": {"datum": -0.7600}
}
},
{
"data": {"values": [{}]},
"mark": {"type": "text", "text": "注：图片为MT4平台中15分钟时段截图", "font": "Noto Sans CJK SC", "fontSize": 21, "color": "#ececec", "align": "left", "baseline": "middle"},
"encoding": {"x": {"datum": -0.125}, "y": {"datum": -0.562}}
},
{
"data": {"values": [{}]},
"mark": {"type": "text", "text": "MACD", "font": "Liberation Sans", "fontSize": 56, "color": "#ffffff", "align": "left", "baseline": "middle"},
"encoding": {"x": {"datum": 103.1}, "y": {"datum": -0.325}}
},
{
"data": {"values": [{}]},
"mark": {"type": "text", "text": "03:00", "font": "Liberation Sans Narrow, Liberation Sans", "fontSize": 19, "color": "#ffffff", "align": "left", "baseline": "top"},
"encoding": {"x": {"datum": -0.375}, "y": {"datum": -0.767}}
}
]
}
]
}
